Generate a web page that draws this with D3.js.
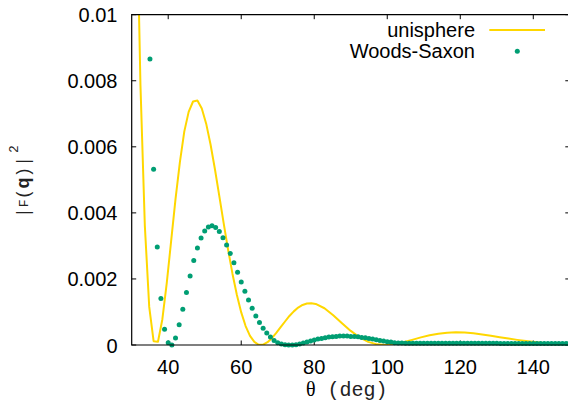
<!DOCTYPE html>
<html><head><meta charset="utf-8">
<script src="https://cdn.jsdelivr.net/npm/d3@7"></script>
<style>html,body{margin:0;padding:0;background:#fff;}svg{display:block;}</style>
</head><body>
<script>
// unisphere |F(q)|^2 (line)
const uniTheta = [30,31.2,32.4,33.6,34.8,36,37.2,38.4,39.6,40.8,42,43.2,44.4,45.6,46.8,48,49.2,50.4,51.6,52.8,54,55.2,56.4,57.6,58.8,60,61.2,62.4,63.6,64.8,66,67.2,68.4,69.6,70.8,72,73.2,74.4,75.6,76.8,78,79.2,80.4,82.8,85.2,87.6,90,92.4,94.8,97.2,99.6,102,104.4,106.8,109.2,111.6,114,116.4,118.8,121.2,123.6,126,128.4,130.8,133.2,135.6,138,140.4,142.8,145.2,147.6,150];
const uniValue = [0.02359,0.01438,0.007865,0.003608,0.001153,0.000115,0.000099,0.00078,0.001875,0.003143,0.004417,0.005535,0.006461,0.007058,0.007372,0.007401,0.007162,0.006701,0.00607,0.00532,0.004509,0.003684,0.002889,0.002159,0.00152,0.000987,0.000574,0.000277,0.000093,0.0000085,0.0000113,0.0000835,0.000207,0.000364,0.000538,0.000712,0.000879,0.001018,0.001133,0.001212,0.001257,0.001267,0.001243,0.001112,0.000902,0.000661,0.000427,0.000233,0.0000951,0.0000193,0.0000004,0.000027,0.0000841,0.000156,0.00023,0.000295,0.000343,0.000372,0.000383,0.000375,0.000353,0.00032,0.00028,0.000237,0.000195,0.000155,0.000119,0.0000876,0.0000618,0.0000411,0.0000255,0.0000143];
// Woods-Saxon |F(q)|^2 (points)
const wsTheta = [35,36,37,38,39,40,41,42,43,44,45,46,47,48,49,50,51,52,53,54,55,56,57,58,59,60,61,62,63,64,65,66,67,68,69,70,71,72,73,74,75,76,77,78,79,80,81,82,83,84,85,86,87,88,89,90,91,92,93,94,95,96,97,98,99,100,101,102,103,104,105,106,107,108,109,110,111,112,113,114,115,116,117,118,119,120,121,122,123,124,125,126,127,128,129,130,131,132,133,134,135,136,137,138,139,140,141,142,143,144,145,146,147,148,149,150];
const wsValue = [0.00866,0.00532,0.00297,0.00141,0.00048,0.00007,0.0,0.00021,0.00061,0.00108,0.00159,0.00209,0.00256,0.00294,0.00324,0.00345,0.00357,0.00361,0.00356,0.00344,0.00325,0.00303,0.00277,0.00249,0.0022,0.00191,0.00163,0.00136,0.00111,0.00088,0.00068,0.00051,0.00036,0.00024,0.00014,0.00007,0.00003,0.00001,0.000003,0.000003,0.00001,0.00003,0.00006,0.00009,0.00012,0.00015,0.00018,0.0002,0.00022,0.00024,0.00025,0.00026,0.00027,0.00027,0.00027,0.00026,0.00026,0.00025,0.00023,0.00022,0.0002,0.00018,0.00016,0.00014,0.00012,0.0001,0.00009,0.00007,0.00006,0.00006,0.00005,0.00005,0.00005,0.00005,0.00005,0.00005,0.00005,0.00005,0.00005,0.00005,0.00005,0.00005,0.00005,0.00005,0.00005,0.00005,0.00005,0.00005,0.00005,0.00005,0.00005,0.00005,0.00005,0.00005,0.00005,0.00005,0.000045,0.000045,0.000045,0.000045,0.000045,0.000045,0.000045,0.000045,0.000045,0.000045,0.000045,0.000045,0.000045,0.000045,0.000045,0.000045,0.000045,0.000045,0.000045,0.000045];
const xTicks = [40,60,80,100,120,140];
const yTicks = [0,0.002,0.004,0.006,0.008,0.01];
const yTickLabels = ["0","0.002","0.004","0.006","0.008","0.01"];
const seriesNames = ["unisphere","Woods-Saxon"];

const W = 568, H = 412;
const L = 131.7, R = 569.8, T = 14.7, B = 345;
const svg = d3.select("body").append("svg").attr("width", W).attr("height", H);
const x = d3.scaleLinear().domain([30,150]).range([L,R]);
const y = d3.scaleLinear().domain([0,0.01]).range([B,T]);

svg.append("defs").append("clipPath").attr("id","clip")
  .append("rect").attr("x",L).attr("y",T).attr("width",R-L).attr("height",B-T);

const font = "'Liberation Sans', Arial, sans-serif";
const tickLen = 4.5;

// ticks
const g = svg.append("g").attr("stroke","#000").attr("stroke-width",1);
xTicks.forEach(v => {
  g.append("line").attr("x1",x(v)).attr("x2",x(v)).attr("y1",B).attr("y2",B-tickLen);
  g.append("line").attr("x1",x(v)).attr("x2",x(v)).attr("y1",T).attr("y2",T+tickLen);
});
yTicks.forEach(v => {
  g.append("line").attr("x1",L).attr("x2",L+tickLen).attr("y1",y(v)).attr("y2",y(v));
  g.append("line").attr("x1",R).attr("x2",R-tickLen).attr("y1",y(v)).attr("y2",y(v));
});

// data
const uni = uniTheta.map((t,i)=>[t,uniValue[i]]);
const ws = wsTheta.map((t,i)=>[t,wsValue[i]]);
const plot = svg.append("g").attr("clip-path","url(#clip)");
plot.append("path").datum(uni)
  .attr("d", d3.line().x(d=>x(d[0])).y(d=>y(d[1])))
  .attr("fill","none").attr("stroke","#ffd700").attr("stroke-width",2).attr("stroke-linejoin","round");
svg.append("g").selectAll("circle").data(ws).join("circle")
  .attr("cx",d=>x(d[0])).attr("cy",d=>y(d[1])).attr("r",2.5).attr("fill","#009e73");

// border
svg.append("path").attr("d",`M${R},${T}H${L}V${B}H${R}`).attr("fill","none").attr("stroke","#000").attr("stroke-width",1.2);

// tick labels
xTicks.forEach(v => {
  svg.append("text").attr("x",x(v)).attr("y",374).attr("text-anchor","middle")
    .attr("font-family",font).attr("font-size",20).text(v);
});
yTicks.forEach((v,i) => {
  svg.append("text").attr("x",117.5).attr("y",y(v)+7.5).attr("text-anchor","end")
    .attr("font-family",font).attr("font-size",20).text(yTickLabels[i]);
});

// x title
const xt = svg.append("text").attr("x",306).attr("y",396).attr("font-size",20);
xt.append("tspan").attr("font-family","'Liberation Serif', serif").text("θ");
xt.append("tspan").attr("font-family","'Liberation Mono', monospace").attr("fill","#222").attr("xml:space","preserve").text(" (deg)");

// y title
const yt = svg.append("text").attr("transform","translate(29,218) rotate(-90)")
  .attr("font-family","'Liberation Mono', monospace").attr("font-size",18).attr("fill","#222");
yt.append("tspan").text("|");
yt.append("tspan").attr("font-size",13).attr("dy",-1).text("F");
yt.append("tspan").attr("dy",1).text("(");
yt.append("tspan").attr("font-weight","bold").attr("font-family","'Liberation Sans', sans-serif").text("q");
yt.append("tspan").text(")|");
yt.append("tspan").attr("font-size",13).attr("dy",-11).attr("dx",3).text("2");

// legend
svg.append("text").attr("x",475).attr("y",36.7).attr("text-anchor","end")
  .attr("font-family",font).attr("font-size",20).text(seriesNames[0]);
svg.append("text").attr("x",475).attr("y",58.3).attr("text-anchor","end")
  .attr("font-family",font).attr("font-size",20).text(seriesNames[1]);
svg.append("line").attr("x1",489.3).attr("x2",545).attr("y1",30).attr("y2",30)
  .attr("stroke","#ffd700").attr("stroke-width",2);
svg.append("circle").attr("cx",517.3).attr("cy",51.3).attr("r",2.5).attr("fill","#009e73");
</script>
</body></html>
